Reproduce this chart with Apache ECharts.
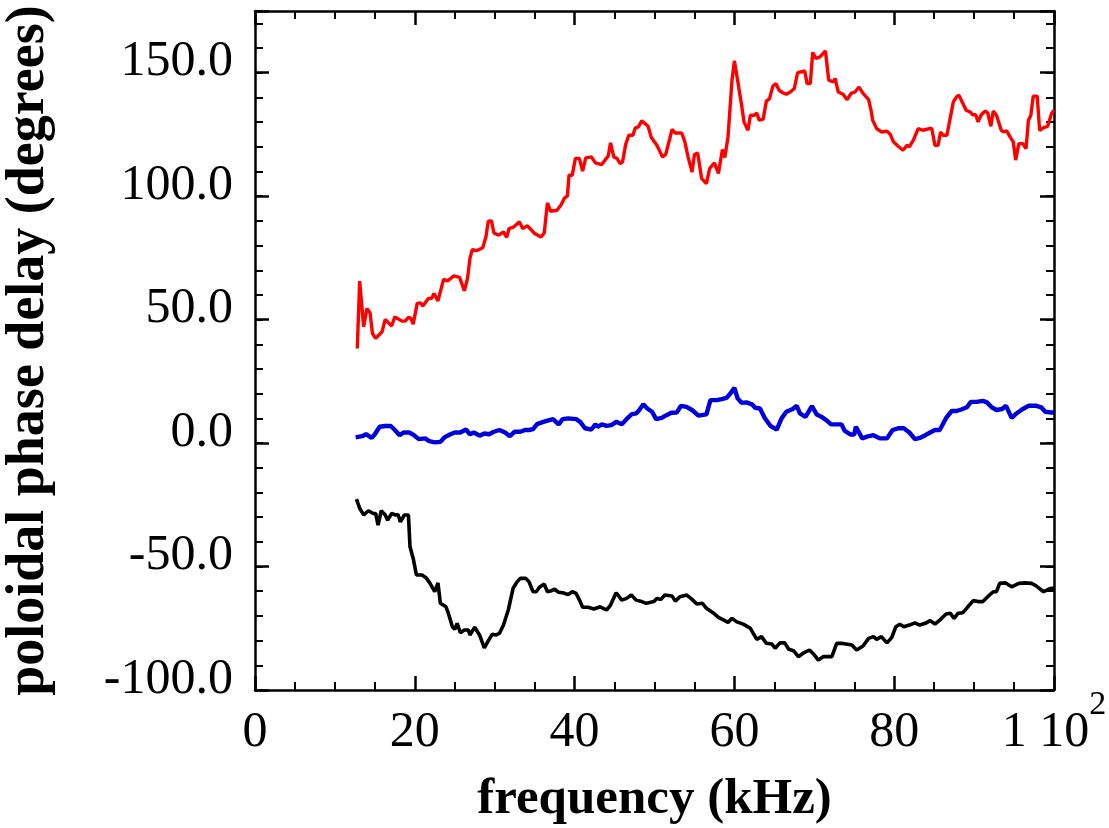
<!DOCTYPE html>
<html>
<head>
<meta charset="utf-8">
<script src="https://cdn.jsdelivr.net/npm/echarts@6/dist/echarts.min.js"></script>
<style>
html,body{margin:0;padding:0;background:#ffffff;}
#chart{width:1109px;height:828px;}
</style>
</head>
<body>
<div id="chart"></div>
<script>
// ---- data: [frequency (kHz), poloidal phase delay (degrees)] ----
const redSeries = [
[12.8,38.3],[13.1,65.6],[13.6,47.1],[14.0,54.5],[14.4,52.8],[14.7,44.4],[15.1,42.4],[15.9,45.1],[16.3,50.1],[17.1,47.4],
[17.5,51.1],[18.4,49.4],[18.8,49.4],[19.2,50.9],[19.5,50.5],[19.8,48.2],[20.3,56.6],[20.7,56.8],[21.0,55.5],[21.7,58.6],
[22.1,58.6],[22.4,60.6],[22.9,57.6],[23.6,66.3],[24.1,65.7],[24.9,67.7],[25.6,67.1],[26.2,61.7],[26.6,66.7],[26.9,74.8],
[27.2,78.4],[27.7,77.9],[28.5,79.1],[28.9,83.5],[29.2,89.9],[29.6,90.0],[29.9,85.1],[30.5,84.2],[31.1,85.5],[31.5,83.3],
[31.8,86.9],[32.4,87.6],[33.1,89.6],[33.5,86.9],[34.1,88.0],[35.0,84.9],[35.8,83.5],[36.2,85.1],[36.6,97.3],[37.0,93.9],
[37.8,94.3],[38.3,96.4],[38.7,99.1],[39.1,100.1],[39.3,108.5],[39.7,108.5],[40.1,115.3],[40.6,115.3],[41.0,110.2],[41.4,115.5],
[42.1,115.9],[42.6,113.5],[43.4,112.8],[43.8,114.6],[44.2,116.2],[44.5,121.6],[44.9,115.9],[45.3,115.3],[45.7,113.2],[46.0,113.9],
[46.4,121.1],[46.8,124.7],[47.3,124.7],[47.6,127.7],[48.0,128.1],[48.4,130.5],[49.2,128.3],[49.6,123.8],[50.3,120.6],[51.0,115.9],
[51.4,116.9],[52.2,127.0],[52.6,125.6],[53.4,125.6],[53.8,122.0],[54.2,115.9],[54.7,109.8],[55.0,116.9],[55.4,117.5],[55.9,107.2],
[56.5,105.1],[56.9,111.2],[57.5,113.5],[58.0,109.2],[58.5,118.9],[58.8,115.7],[59.2,124.0],[59.7,147.0],[60.0,154.8],[60.4,147.0],
[60.9,136.8],[61.2,130.1],[61.7,126.7],[62.0,132.8],[62.5,132.8],[62.8,133.7],[63.1,130.8],[63.6,131.2],[64.0,138.5],[64.4,139.5],
[64.8,144.5],[65.2,145.6],[65.6,142.9],[66.1,141.8],[66.5,141.3],[67.0,142.2],[67.5,143.6],[67.9,149.9],[68.3,150.3],[68.8,150.7],
[69.1,145.6],[69.5,145.6],[69.8,158.2],[70.2,155.8],[70.7,156.4],[71.4,158.8],[71.8,147.0],[72.4,146.3],[72.6,147.7],[73.0,142.2],
[73.6,141.3],[74.1,139.1],[74.6,141.6],[75.1,142.2],[75.6,144.2],[76.1,141.6],[76.8,139.1],[77.1,134.8],[77.3,130.8],[77.8,127.4],
[78.4,126.0],[79.1,126.3],[79.5,125.1],[79.9,122.0],[80.5,120.2],[81.1,118.6],[81.6,120.6],[81.9,120.0],[82.4,122.7],[83.0,127.4],
[83.6,126.7],[84.4,127.4],[84.7,127.4],[85.1,120.6],[85.5,120.6],[85.8,126.0],[86.1,124.7],[86.6,124.7],[87.0,131.5],[87.4,138.2],
[87.8,140.2],[88.1,140.9],[88.6,137.5],[89.0,134.8],[89.5,134.1],[89.8,133.0],[90.2,133.0],[90.5,130.1],[90.9,133.0],[91.4,134.5],
[91.7,133.7],[92.1,128.3],[92.4,134.5],[92.8,132.8],[93.4,126.7],[93.7,126.0],[94.1,126.4],[94.5,124.0],[94.9,122.0],[95.2,114.6],
[95.6,121.3],[96.1,121.3],[96.5,119.3],[96.8,130.8],[97.1,132.8],[97.4,140.5],[97.9,140.5],[98.2,126.7],[98.7,127.8],[99.2,128.3],
[99.7,133.5],[100.0,134.8]
];

const blueSeries = [
[12.6,2.3],[13.4,2.8],[13.9,3.6],[14.6,2.1],[15.0,3.6],[15.6,6.6],[16.3,6.9],[17.0,6.9],[17.5,5.3],[18.1,3.2],
[18.6,4.3],[19.3,4.3],[19.9,3.2],[20.5,1.6],[21.3,1.9],[21.8,0.8],[22.5,0.3],[23.2,0.5],[23.7,2.3],[24.4,3.5],
[25.0,4.3],[25.7,4.3],[26.4,5.5],[26.9,3.6],[27.4,4.3],[28.1,3.0],[28.7,3.9],[29.3,3.6],[29.9,4.6],[30.6,5.3],
[31.3,4.3],[31.9,2.8],[32.5,4.6],[33.2,4.6],[33.8,5.3],[34.3,5.3],[34.8,5.7],[35.3,7.7],[35.9,8.4],[36.5,9.0],
[37.3,9.7],[38.0,7.6],[38.5,9.7],[39.2,10.0],[40.2,9.7],[40.7,8.6],[41.3,6.0],[42.1,5.5],[42.6,7.6],[42.9,6.6],
[43.4,7.6],[44.0,7.0],[44.6,7.3],[45.2,8.6],[45.9,7.6],[46.5,9.7],[47.1,11.6],[47.7,12.0],[48.1,13.4],[48.6,15.7],
[49.1,14.0],[49.7,12.7],[50.2,9.7],[50.9,10.2],[51.5,11.3],[52.1,12.3],[52.8,12.4],[53.3,15.1],[54.0,14.7],[54.7,13.4],
[55.5,11.1],[56.5,11.6],[57.0,17.4],[57.8,17.4],[58.4,17.8],[59.0,18.3],[59.5,20.1],[60.0,22.4],[60.4,18.1],[60.9,16.3],
[61.5,16.5],[62.2,15.7],[62.6,14.3],[63.2,14.0],[63.8,10.2],[64.5,7.0],[65.3,5.5],[65.9,10.0],[66.5,12.7],[67.3,13.8],
[67.8,15.1],[68.2,12.0],[68.9,10.6],[69.7,15.0],[70.3,11.6],[70.9,10.6],[71.5,9.3],[72.1,7.6],[72.8,7.6],[73.4,7.6],
[73.8,5.0],[74.5,3.5],[75.0,3.5],[75.2,6.6],[75.6,4.3],[76.0,1.9],[76.6,2.6],[77.4,3.2],[78.2,1.9],[79.1,1.9],
[79.8,5.3],[80.5,6.0],[81.2,6.0],[81.9,4.3],[82.6,1.6],[83.2,2.1],[83.9,3.2],[84.5,4.3],[85.1,5.3],[85.7,5.3],
[86.5,10.2],[87.2,13.0],[87.8,13.0],[88.4,13.6],[89.1,14.5],[89.6,16.7],[90.3,16.7],[91.1,17.1],[91.6,16.5],[92.2,14.5],
[92.8,13.4],[93.5,13.8],[94.0,15.1],[94.7,10.2],[95.3,12.0],[96.0,13.6],[96.8,15.1],[97.8,15.1],[98.4,14.5],[98.9,12.7],
[99.7,12.4],[100.0,12.4]
];

const blackSeries = [
[12.7,-22.7],[13.1,-26.4],[13.6,-29.1],[14.2,-27.4],[14.8,-28.5],[15.1,-28.5],[15.4,-33.2],[15.8,-27.4],[16.3,-29.1],[16.6,-31.2],
[17.1,-28.5],[17.6,-29.1],[17.9,-28.9],[18.2,-31.9],[18.7,-29.1],[19.2,-29.1],[19.4,-42.0],[19.8,-46.7],[20.2,-53.4],[20.9,-53.4],
[21.4,-54.5],[21.9,-56.8],[22.5,-60.2],[22.9,-56.6],[23.2,-64.9],[23.9,-66.3],[24.2,-68.9],[24.7,-74.4],[25.0,-75.4],[25.3,-73.0],
[25.7,-76.8],[26.2,-75.7],[26.7,-75.7],[26.9,-77.7],[27.5,-74.6],[28.1,-77.7],[28.7,-82.9],[29.3,-79.5],[29.7,-77.4],[30.2,-77.7],
[30.6,-77.0],[31.1,-73.7],[31.7,-67.6],[32.3,-58.8],[32.8,-56.2],[33.2,-54.8],[33.9,-54.8],[34.3,-56.2],[34.8,-60.2],[35.2,-60.2],
[35.6,-58.4],[36.2,-57.1],[36.6,-60.2],[37.0,-59.9],[37.5,-59.2],[38.0,-60.4],[38.5,-60.6],[39.2,-61.3],[39.7,-60.2],[40.2,-60.9],
[40.7,-64.2],[41.0,-66.5],[41.7,-66.5],[42.4,-67.2],[43.2,-66.3],[44.0,-67.6],[44.5,-65.6],[45.2,-60.6],[45.9,-63.6],[46.5,-62.9],
[47.1,-61.5],[47.7,-63.6],[48.4,-64.2],[49.0,-64.9],[49.9,-64.2],[50.3,-62.9],[50.8,-63.3],[51.3,-61.5],[52.2,-61.9],[52.6,-64.0],
[53.2,-62.2],[54.0,-61.5],[54.7,-63.3],[55.3,-65.2],[56.0,-64.9],[56.5,-66.9],[57.4,-68.9],[58.0,-70.6],[58.5,-71.4],[59.2,-72.6],
[59.7,-71.0],[60.3,-72.4],[61.1,-73.3],[62.0,-75.0],[62.8,-79.5],[63.4,-78.4],[64.0,-81.1],[64.7,-81.4],[65.1,-83.1],[65.7,-80.9],
[66.3,-80.9],[66.8,-83.5],[67.4,-84.1],[68.0,-86.5],[68.6,-85.1],[69.4,-83.8],[69.9,-85.4],[70.5,-87.9],[71.1,-86.5],[72.2,-86.5],
[72.8,-81.1],[73.4,-81.1],[74.7,-81.8],[75.3,-83.8],[76.1,-82.2],[76.8,-79.1],[77.4,-78.4],[77.8,-79.5],[78.4,-78.4],[79.1,-80.9],
[79.7,-78.7],[80.2,-74.4],[80.7,-73.4],[81.2,-74.4],[81.9,-73.7],[82.6,-72.8],[83.2,-73.7],[83.9,-73.0],[84.5,-71.9],[85.1,-73.3],
[85.7,-71.7],[86.5,-69.2],[87.0,-68.9],[87.5,-71.0],[88.0,-68.9],[88.6,-68.7],[89.3,-66.0],[89.9,-63.8],[90.5,-64.2],[91.1,-64.2],
[91.8,-61.9],[92.4,-60.2],[92.8,-60.2],[93.2,-56.8],[93.9,-56.6],[94.7,-58.2],[95.6,-56.8],[96.4,-56.6],[97.2,-56.8],[97.8,-57.9],
[98.7,-60.2],[99.3,-59.2],[99.7,-58.8],[100.0,-58.8]
];

const xMin = 0, xMax = 100, xMajorStep = 20;
const yMin = -100, yMax = 175, yMajorStep = 50, yMinorStep = 10;
const xTitle = 'frequency (kHz)';
const yTitle = 'poloidal phase delay (degrees)';

// ---- chart ----
const FONT = "'Liberation Serif','Times New Roman',Times,serif";
const BLACK = '#000000';

function xLabel(v) {
  if (v === 100) return '1 10{sup|2}';
  return String(v);
}
function yLabel(v) {
  if (Math.abs(v % yMajorStep) > 1e-9) return '';
  return v.toFixed(1);
}

const tickMajor = { show: true, inside: true, length: 14, lineStyle: { color: BLACK, width: 2.5 } };
const tickMinor = { show: true, inside: true, length: 8, lineStyle: { color: BLACK, width: 2 } };
const axisLineOn = { show: true, onZero: false, lineStyle: { color: BLACK, width: 2.5 } };

const chart = echarts.init(document.getElementById('chart'), null, { renderer: 'canvas' });
chart.setOption({
  animation: false,
  backgroundColor: '#ffffff',
  grid: { left: 255, right: 55, top: 11, bottom: 138, containLabel: false, outerBoundsMode: 'none' },
  xAxis: [
    {
      type: 'value', position: 'bottom', min: xMin, max: xMax, interval: xMajorStep,
      axisLine: axisLineOn,
      axisTick: tickMajor,
      minorTick: { show: true, splitNumber: 4, length: 8, lineStyle: { color: BLACK, width: 2 } },
      splitLine: { show: false }, minorSplitLine: { show: false },
      axisLabel: {
        show: true, margin: -2, lineHeight: 90, fontSize: 50, fontFamily: FONT, color: BLACK,
        formatter: xLabel,
        rich: { sup: { fontSize: 34, lineHeight: 34, verticalAlign: 'top', fontFamily: FONT, color: BLACK } }
      },
      name: xTitle, nameLocation: 'middle', nameGap: 84, nameMoveOverlap: false,
      nameTextStyle: { fontSize: 51, fontWeight: 'bold', fontFamily: FONT, color: BLACK }
    },
    {
      type: 'value', position: 'top', min: xMin, max: xMax, interval: xMajorStep,
      axisLine: axisLineOn,
      axisTick: tickMajor,
      minorTick: { show: true, splitNumber: 4, length: 8, lineStyle: { color: BLACK, width: 2 } },
      splitLine: { show: false }, minorSplitLine: { show: false },
      axisLabel: { show: false }
    }
  ],
  yAxis: [
    {
      type: 'value', position: 'left', min: yMin, max: yMax, interval: yMajorStep,
      axisLine: axisLineOn,
      axisTick: tickMajor,
      splitLine: { show: false },
      axisLabel: {
        show: true, margin: 22, fontSize: 50, fontFamily: FONT, color: BLACK,
        verticalAlign: 'bottom', lineHeight: 21, formatter: yLabel
      },
      name: yTitle, nameLocation: 'middle', nameGap: 199, nameMoveOverlap: false,
      nameTextStyle: { fontSize: 54, fontWeight: 'bold', fontFamily: FONT, color: BLACK }
    },
    {
      type: 'value', position: 'left', min: yMin, max: yMax, interval: yMinorStep,
      axisLine: { show: false, onZero: false },
      axisTick: tickMinor,
      splitLine: { show: false },
      axisLabel: { show: false }
    },
    {
      type: 'value', position: 'right', min: yMin, max: yMax, interval: yMajorStep,
      axisLine: axisLineOn,
      axisTick: tickMajor,
      splitLine: { show: false },
      axisLabel: { show: false }
    },
    {
      type: 'value', position: 'right', min: yMin, max: yMax, interval: yMinorStep,
      axisLine: { show: false, onZero: false },
      axisTick: tickMinor,
      splitLine: { show: false },
      axisLabel: { show: false }
    }
  ],
  series: [
    {
      type: 'line', name: 'red', data: redSeries, xAxisIndex: 0, yAxisIndex: 0,
      symbol: 'none', showSymbol: false, silent: true,
      lineStyle: { color: '#ff0000', width: 3.4 }, itemStyle: { color: '#ff0000' }
    },
    {
      type: 'line', name: 'blue', data: blueSeries, xAxisIndex: 0, yAxisIndex: 0,
      symbol: 'none', showSymbol: false, silent: true,
      lineStyle: { color: '#0000dd', width: 4.4 }, itemStyle: { color: '#0000dd' }
    },
    {
      type: 'line', name: 'black', data: blackSeries, xAxisIndex: 0, yAxisIndex: 0,
      symbol: 'none', showSymbol: false, silent: true,
      lineStyle: { color: '#000000', width: 3.6 }, itemStyle: { color: '#000000' }
    }
  ]
});
</script>
</body>
</html>
